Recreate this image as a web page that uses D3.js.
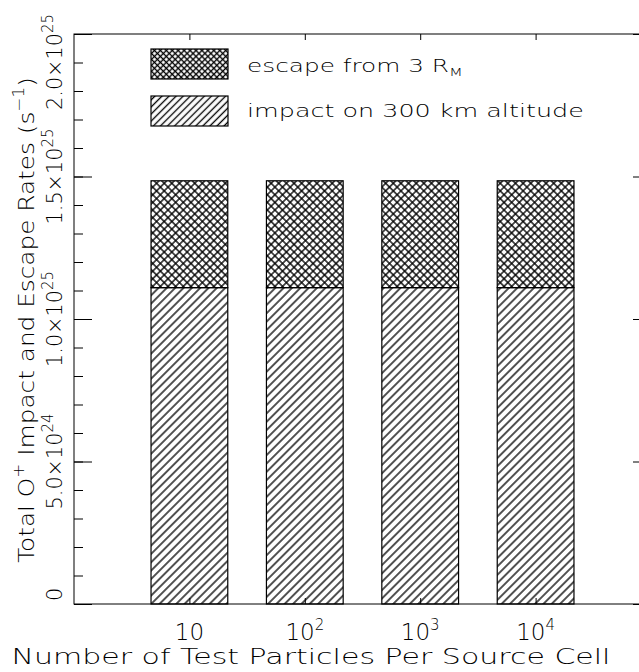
<!DOCTYPE html>
<html><head><meta charset="utf-8">
<script src="https://cdn.jsdelivr.net/npm/d3@7/dist/d3.min.js"></script>
<style>
body{margin:0;background:#fff}
svg{display:block}
text{font-family:"DejaVu Sans",sans-serif;font-weight:200;fill:#000}
</style>
</head><body>
<svg id="chart" width="639" height="672"></svg>
<script>
// ---- data ----
const categoryBase = ["10", "10", "10", "10"];
const categoryExponent = ["", "2", "3", "4"];
const impactRates = [1.11e25, 1.11e25, 1.11e25, 1.11e25];
const escapeRates = [0.375e25, 0.375e25, 0.375e25, 0.375e25];
const yMajorTicks = [0, 5e24, 1e25, 1.5e25, 2e25];
const yTickMantissa = ["0", "5.0", "1.0", "1.5", "2.0"];
const yTickExponent = ["", "24", "25", "25", "25"];
const yMinorTicks = d3.range(0, 21).map(d => d * 1e24);
const legendLabels = ["escape from 3 R", "impact on 300 km altitude"];
const legendSubscripts = ["M", ""];
const xTitle = "Number of Test Particles Per Source Cell";

// ---- layout ----
const svg = d3.select("#chart");
const x = d3.scaleLinear().domain([0, 5]).range([74, 651]);
const y = d3.scaleLinear().domain([0, 2e25]).range([604, 34]);
const barW = x(0.665) - x(0);

const defs = svg.append("defs");
function hatch(id, s, cross) {
  const p = defs.append("pattern").attr("id", id)
    .attr("patternUnits", "userSpaceOnUse")
    .attr("width", s).attr("height", s)
    .attr("patternTransform", "rotate(45)");
  p.append("line").attr("x1", s/2).attr("x2", s/2).attr("y1", -1).attr("y2", s+1)
    .attr("stroke", "#000").attr("stroke-width", 1.35);
  if (cross) p.append("line").attr("y1", s/2).attr("y2", s/2).attr("x1", -1).attr("x2", s+1)
    .attr("stroke", "#000").attr("stroke-width", 1.35);
}
hatch("diag", 5.9, false);
hatch("cross", 5.4, true);
hatch("diagL", 5.0, false);
hatch("crossL", 4.2, true);

// scale a text element along its own direction to a target length
function fit(textSel, target) {
  const L = textSel.node().getComputedTextLength();
  const t = textSel.attr("transform") || "";
  textSel.attr("transform", t + ` scale(${target / L},1)`);
}

// ---- bars ----
const idx = d3.range(categoryBase.length);
const bars = svg.append("g");
bars.selectAll("rect.imp").data(idx).join("rect")
  .attr("x", i => x(i + 1) - barW/2).attr("width", barW)
  .attr("y", i => y(impactRates[i])).attr("height", i => y(0) - y(impactRates[i]))
  .attr("fill", "url(#diag)").attr("stroke", "#000").attr("stroke-width", 1.2);
bars.selectAll("rect.esc").data(idx).join("rect")
  .attr("x", i => x(i + 1) - barW/2).attr("width", barW)
  .attr("y", i => y(impactRates[i] + escapeRates[i]))
  .attr("height", i => y(impactRates[i]) - y(impactRates[i] + escapeRates[i]))
  .attr("fill", "url(#cross)").attr("stroke", "#000").attr("stroke-width", 1.2);

// ---- axes ----
const ax = svg.append("g");
function yAxis(gen, xpos, vals, size) {
  const g = ax.append("g").attr("transform", `translate(${xpos},0)`)
    .call(gen(y).tickValues(vals).tickSize(size).tickFormat("").tickSizeOuter(0));
  g.select(".domain").remove();
  g.selectAll("line").attr("stroke", "#000");
}
yAxis(d3.axisLeft, 74, yMinorTicks, -9);
yAxis(d3.axisLeft, 74, yMajorTicks, -18);
yAxis(d3.axisRight, 651, yMinorTicks, -9);
yAxis(d3.axisRight, 651, yMajorTicks, -18);
function xAxis(gen, ypos) {
  const g = ax.append("g").attr("transform", `translate(0,${ypos})`)
    .call(gen(x).tickValues(idx.map(i => i + 1)).tickSize(-6).tickFormat("").tickSizeOuter(0));
  g.select(".domain").remove();
  g.selectAll("line").attr("stroke", "#000");
}
xAxis(d3.axisBottom, 604);
xAxis(d3.axisTop, 34);
ax.append("rect").attr("x", 74).attr("y", 34).attr("width", 651 - 74).attr("height", 604 - 34)
  .attr("fill", "none").attr("stroke", "#000").attr("stroke-width", 1);

// ---- x tick labels ----
idx.forEach(i => {
  const t = svg.append("text").attr("x", x(i + 1)).attr("y", 640)
    .attr("text-anchor", "middle").attr("font-size", 23);
  t.append("tspan").text(categoryBase[i]);
  if (categoryExponent[i]) t.append("tspan").attr("font-size", 15).attr("dy", -10).text(categoryExponent[i]);
});

// ---- y tick labels ----
yMajorTicks.forEach((v, i) => {
  const g = svg.append("g");
  const t = g.append("text").attr("text-anchor", "middle").attr("font-size", 21)
    .attr("transform", "rotate(-90)");
  t.append("tspan").text(yTickMantissa[i] + (yTickExponent[i] ? "\u00D710" : ""));
  if (yTickExponent[i]) t.append("tspan").attr("font-size", 15).attr("dy", -9).text(yTickExponent[i]);
  let L = t.node().getComputedTextLength();
  if (yTickExponent[i]) { fit(t, 96); L = 96; }
  let c = y(v);
  if (c - L/2 < 14) c = 14 + L/2;
  if (c + L/2 > 601) c = 601 - L/2;
  g.attr("transform", `translate(62,${c})`);
});

// ---- axis titles ----
const xg = svg.append("g").attr("transform", "translate(311,664)");
const xt = xg.append("text").attr("font-size", 22).attr("text-anchor", "middle").text(xTitle);
fit(xt, 599);

const yg = svg.append("g").attr("transform", "translate(34,320) rotate(-90)");
const yt = yg.append("text").attr("font-size", 22).attr("text-anchor", "middle");
yt.append("tspan").text("Total O");
yt.append("tspan").attr("font-size", 15).attr("dy", -10).text("+");
yt.append("tspan").attr("dy", 10).text(" Impact and Escape Rates (s");
yt.append("tspan").attr("font-size", 15).attr("dy", -10).text("\u22121");
yt.append("tspan").attr("dy", 10).text(")");
fit(yt, 486);

// ---- legend ----
const legendFills = ["url(#crossL)", "url(#diagL)"];
const legendBoxY = [49, 96];
const legendBaseY = [71.7, 117];
const legendWidths = [216, 337];
legendLabels.forEach((lab, i) => {
  svg.append("rect").attr("x", 151).attr("y", legendBoxY[i]).attr("width", 77).attr("height", 30)
    .attr("fill", legendFills[i]).attr("stroke", "#000").attr("stroke-width", 1.2);
  const g = svg.append("g").attr("transform", `translate(247,${legendBaseY[i]})`);
  const t = g.append("text").attr("font-size", 17);
  t.append("tspan").text(lab);
  if (legendSubscripts[i]) t.append("tspan").attr("font-size", 11).attr("dy", 4).text(legendSubscripts[i]);
  fit(t, legendWidths[i]);
});
</script>
</body></html>
